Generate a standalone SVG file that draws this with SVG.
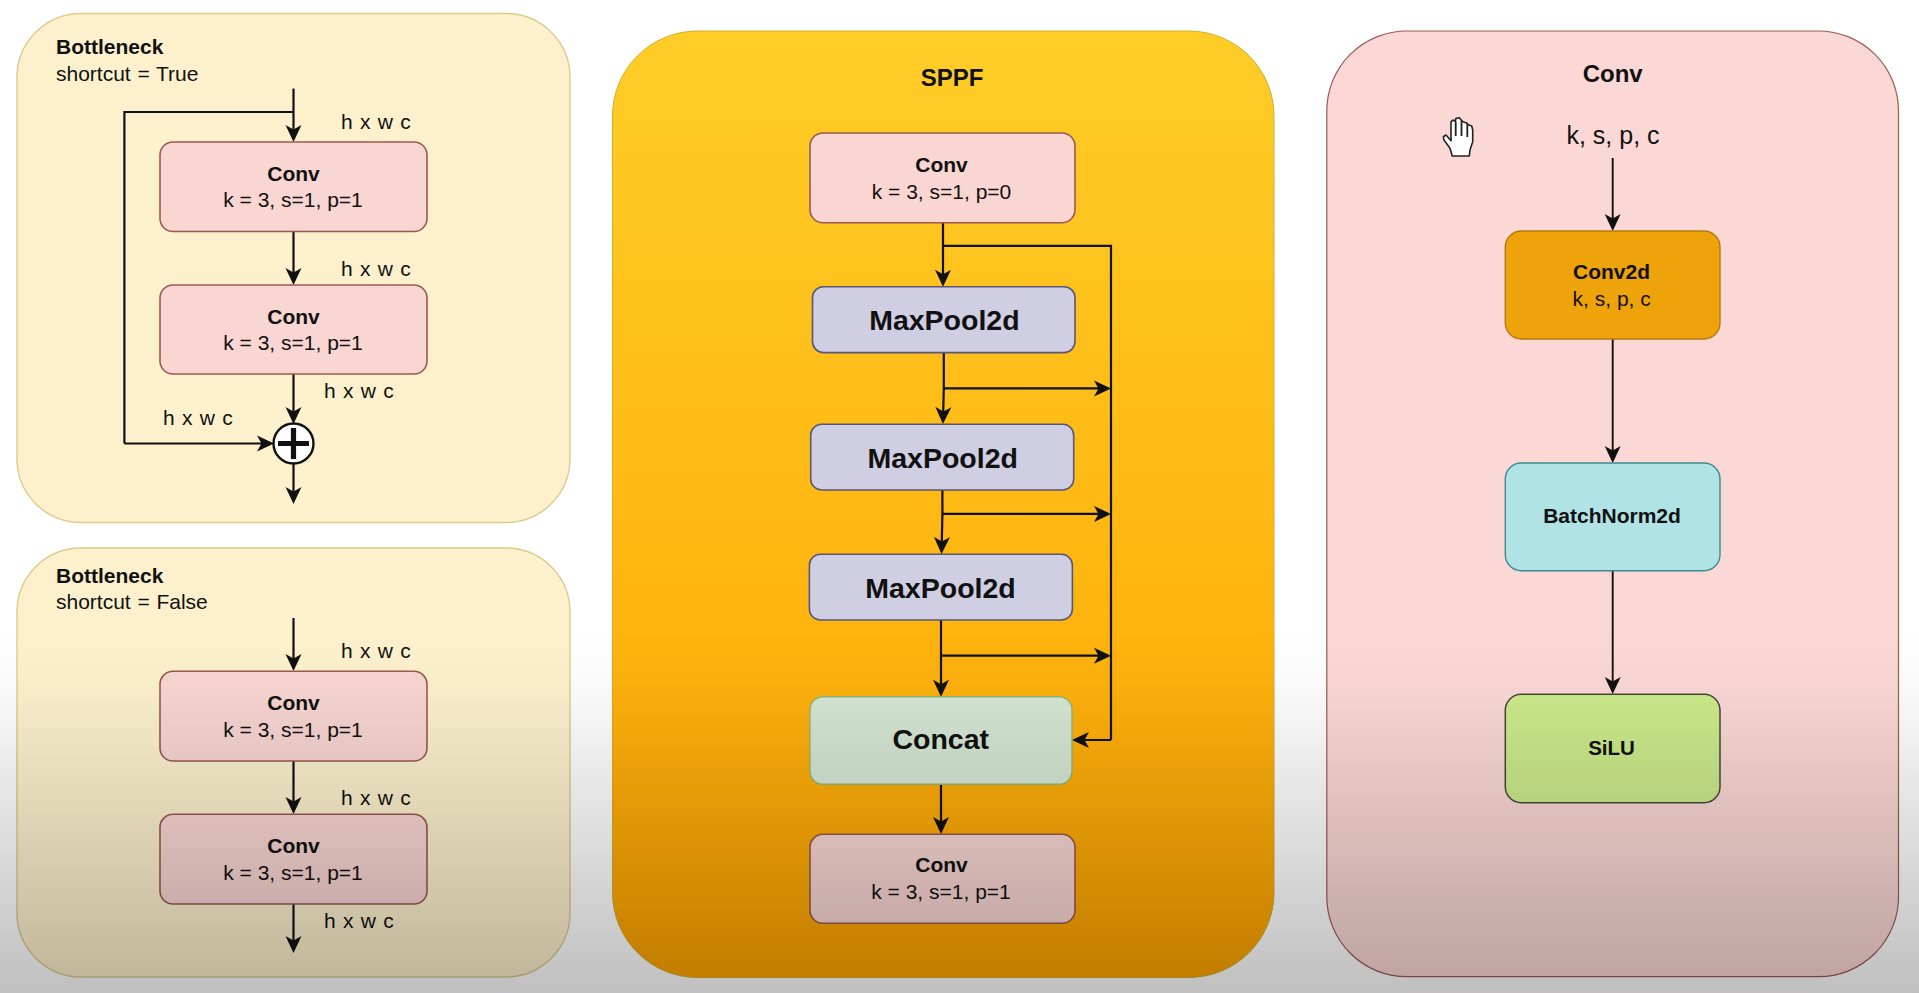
<svg xmlns="http://www.w3.org/2000/svg" width="1919" height="993" viewBox="0 0 1919 993">
<style>
text{font-family:"Liberation Sans",Arial,sans-serif;fill:#111;font-size:21px}
.m{text-anchor:middle}
.b{font-weight:700}
.dim{word-spacing:1.5px}
.sc{word-spacing:0.9px}
.big{font-size:28.5px;font-weight:700;text-anchor:middle}
.ttl{font-size:24px;font-weight:700;text-anchor:middle}
.soft{fill:#fdf1cd;stroke:#dccb8c;stroke-width:1.4}
.conv{fill:#f9d6d2;stroke:#9a5a50;stroke-width:1.6}
.pool{fill:#d0cee2;stroke:#5a5678;stroke-width:1.6}
.cat{fill:#d5e8d4;stroke:#8fb878;stroke-width:1.4}
.w{fill:none;stroke:#111;stroke-width:2.2}
.a{marker-end:url(#arr)}
.thin{stroke-width:1.9}
</style>
<defs>
<marker id="arr" markerUnits="userSpaceOnUse" viewBox="0 0 17 17" refX="14" refY="8.5" markerWidth="17" markerHeight="17" orient="auto">
<path d="M17 8.5L0 0.5L4.5 8.5L0 16.5Z" fill="#111"/>
</marker>
<linearGradient id="sppfFill" x1="0" y1="0" x2="0" y2="1">
<stop offset="0" stop-color="#ffcd28"/>
<stop offset="1" stop-color="#ffa500"/>
</linearGradient>
<linearGradient id="shadeFill" x1="0" y1="0" x2="0" y2="1">
<stop offset="0" stop-color="#000" stop-opacity="0"/>
<stop offset="0.15" stop-color="#000" stop-opacity="0.02"/>
<stop offset="0.5" stop-color="#000" stop-opacity="0.115"/>
<stop offset="1" stop-color="#000" stop-opacity="0.25"/>
</linearGradient>
</defs>
<rect width="1919" height="993" fill="#fff"/>
<g id="panel-bottleneck-true"><rect class="soft" x="17" y="13.5" width="553" height="509" rx="64"/>
<text class="b" x="56" y="53.5">Bottleneck</text><text class="sc" x="56" y="80.5">shortcut = True</text>
<text class="dim" x="341" y="128.5">h x w c</text><text class="dim" x="341" y="275.5">h x w c</text><text class="dim" x="324" y="398">h x w c</text><text class="dim" x="163" y="425">h x w c</text></g>
<g id="panel-bottleneck-false"><rect class="soft" x="17" y="548" width="553" height="429" rx="64"/>
<text class="b" x="56" y="582.7">Bottleneck</text><text class="sc" x="56" y="609.3">shortcut = False</text>
<text class="dim" x="341" y="658">h x w c</text><text class="dim" x="341" y="805">h x w c</text><text class="dim" x="324" y="927.7">h x w c</text></g>
<g id="panel-sppf"><rect x="612.5" y="31" width="661.5" height="946.5" rx="85" fill="url(#sppfFill)" stroke="#cfae2a" stroke-width="1"/>
<text class="ttl" x="952" y="85.5">SPPF</text></g>
<g id="panel-conv"><rect x="1326.8" y="31" width="571.7" height="945.7" rx="80" fill="#fbd8d5" stroke="#9b5a55" stroke-width="1.2"/>
<text class="ttl" x="1612.7" y="82">Conv</text><text class="m" style="font-size:25px" x="1613" y="143.7">k, s, p, c</text></g>
<g id="connectors">
<path class="w a" d="M293.5 88.6V139"/><path class="w" d="M293.5 112H124.4V443.5"/><path class="w a" d="M124.4 443.5H271"/>
<path class="w a" d="M293.5 231.5V282"/><path class="w a" d="M293.5 374V421"/><path class="w a" d="M293.5 463V501"/>
<path class="w a" d="M293.5 618V668"/><path class="w a" d="M293.5 761V811"/><path class="w a" d="M293.5 904V950"/>
<path class="w a" d="M943 222.8V283.7"/><path class="w" d="M943 245.8H1111V740"/><path class="w a" d="M1111 740H1075"/>
<path class="w a" d="M943.8 352.6V388.4L943 421"/><path class="w a" d="M943.8 388.4H1108"/>
<path class="w a" d="M942.4 490V513.9L941.6 551"/><path class="w a" d="M942.4 513.9H1108"/>
<path class="w a" d="M941 620V693.7"/><path class="w a" d="M941 655.7H1108"/>
<path class="w a" d="M941 784.3V831"/>
<path class="w a thin" d="M1612.7 158V228"/><path class="w a thin" d="M1612.7 339V460"/><path class="w a thin" d="M1612.7 570.7V691"/>
</g>
<g id="node-bt-conv1"><rect class="conv" x="160" y="142" width="267" height="89.5" rx="13"/><text class="m b" x="293.5" y="181">Conv</text><text class="m" x="293" y="207">k = 3, s=1, p=1</text></g>
<g id="node-bt-conv2"><rect class="conv" x="160" y="285" width="267" height="89" rx="13"/><text class="m b" x="293.5" y="323.5">Conv</text><text class="m" x="293" y="350">k = 3, s=1, p=1</text></g>
<g id="node-plus"><circle cx="293.5" cy="443.5" r="20" fill="#fff" stroke="#111" stroke-width="2.4"/><path d="M278 443.5H309M293.5 428V459" stroke="#111" stroke-width="5.2" fill="none"/></g>
<g id="node-bf-conv1"><rect class="conv" x="160" y="671.3" width="267" height="89.7" rx="13"/><text class="m b" x="293.5" y="710">Conv</text><text class="m" x="293" y="737.3">k = 3, s=1, p=1</text></g>
<g id="node-bf-conv2"><rect class="conv" x="160" y="814.3" width="267" height="89.7" rx="13"/><text class="m b" x="293.5" y="852.7">Conv</text><text class="m" x="293" y="880">k = 3, s=1, p=1</text></g>
<g id="node-sppf-conv1"><rect class="conv" x="810" y="133" width="265" height="89.8" rx="13"/><text class="m b" x="941.5" y="171.7">Conv</text><text class="m" x="941.5" y="198.8">k = 3, s=1, p=0</text></g>
<g id="node-pool1"><rect class="pool" x="812.5" y="286.7" width="262.5" height="65.9" rx="11"/><text class="big" x="944.4" y="329.6">MaxPool2d</text></g>
<g id="node-pool2"><rect class="pool" x="810.7" y="424.3" width="263" height="65.7" rx="11"/><text class="big" x="942.7" y="467.5">MaxPool2d</text></g>
<g id="node-pool3"><rect class="pool" x="809.4" y="554.3" width="263" height="65.7" rx="11"/><text class="big" x="940.5" y="597.7">MaxPool2d</text></g>
<g id="node-concat"><rect class="cat" x="810" y="696.7" width="262" height="87.6" rx="13"/><text class="big" x="940.7" y="749">Concat</text></g>
<g id="node-sppf-conv2"><rect class="conv" x="810" y="834.3" width="265" height="89" rx="13"/><text class="m b" x="941.5" y="872.3">Conv</text><text class="m" x="941" y="899">k = 3, s=1, p=1</text></g>
<g id="node-conv2d"><rect x="1505.3" y="231" width="214.7" height="108" rx="16" fill="#efa30a" stroke="#b57a10" stroke-width="1.4"/><text class="m b" x="1611.5" y="279">Conv2d</text><text class="m" x="1611.7" y="306">k, s, p, c</text></g>
<g id="node-batchnorm"><rect x="1505.3" y="463" width="214.7" height="107.7" rx="16" fill="#b0e3e6" stroke="#3f8a8e" stroke-width="1.4"/><text class="m b" x="1612" y="523">BatchNorm2d</text></g>
<g id="node-silu"><rect x="1505.3" y="694.3" width="214.7" height="108.4" rx="16" fill="#cdeb8b" stroke="#45483f" stroke-width="1.5"/><text class="m b" style="font-size:20.5px" x="1611.5" y="755">SiLU</text></g>
<g id="cursor"><path d="M1452.3 156L1450 148.3L1444 140L1443.3 136.7L1446 135L1451 140.7V121.7L1453.3 120L1455.3 121.3L1456 118.3L1459.3 117.7L1461.3 120L1463.3 122L1466.7 123L1468.7 125L1471.7 126L1472.7 130V141.7L1470 150L1469.3 156Z" fill="#fff" stroke="#222" stroke-width="1.6" stroke-linejoin="round"/><path d="M1455.7 121.5V136M1461.5 120.5V136M1467.3 124V137" fill="none" stroke="#222" stroke-width="1.8"/></g>
<rect id="shade" x="0" y="630" width="1919" height="363" fill="url(#shadeFill)"/>
</svg>
